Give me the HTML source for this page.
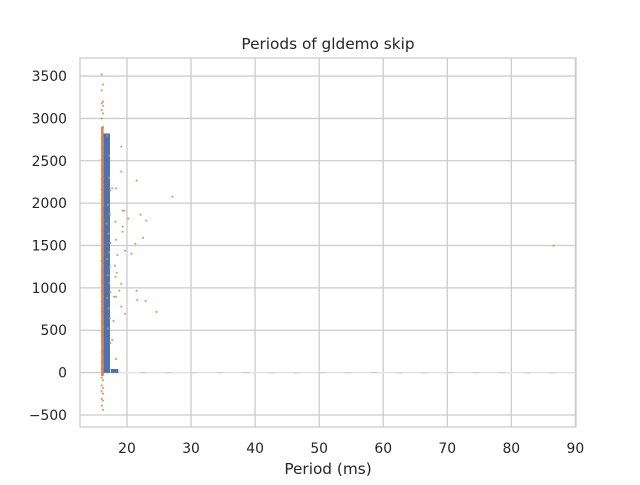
<!DOCTYPE html>
<html><head><meta charset="utf-8"><style>
body{margin:0;background:#fff;font-family:"Liberation Sans","DejaVu Sans",sans-serif}
svg text{font-family:"DejaVu Sans","Liberation Sans",sans-serif;fill:#262626}
</style></head><body>
<svg id="chart" width="640" height="480" xmlns="http://www.w3.org/2000/svg">
<rect width="640" height="480" fill="#fff"/>
<g id="grid"></g><g id="marks"></g><g id="axes"></g>
<text x="328" y="49" text-anchor="middle" font-size="15.3">Periods of gldemo skip</text>
<text x="328" y="474" text-anchor="middle" font-size="15.3">Period (ms)</text>
</svg>
<script>
const xTicks=[20,30,40,50,60,70,80,90];
const yTicks=[-500,0,500,1000,1500,2000,2500,3000,3500];
const histEdges=[16.36,17.3,17.5,18.6];
const histHeights=[2820,40];
const tailBins=[19,23,27,31,35,39,43,47,51,55,59,63,67,71,75,79,83,87];
const tailHeights=[4,3,3,2,2,2,2,2,2,2,2,2,2,2,2,2,2,2];
const stripY=[-440,-390,-330,-310,-250,-220,-180,-150,-90,-60,-20,30,80,130,180,240,300,360,420,480,540,600,660,720,780,840,900,960,1020,1080,1140,1200,1260,1320,1380,1440,1500,1560,1620,1680,1740,1800,1860,1920,1980,2040,2100,2160,2220,2280,2340,2400,2460,2520,2580,2640,2700,2760,2820,2880,2900,3000,3060,3100,3150,3180,3200,3330,3400,3520];
const midX=[16.9,17.2,17.4,17.0,17.3,16.8,17.1,17.4,17.2,16.9,17.3,17.0,17.2,17.4,16.9,17.1,17.3,17.0,17.4,17.2];
const midY=[2800,2560,2150,1980,1870,1760,1640,1530,1420,1340,1250,1150,1060,950,880,760,640,520,350,2300];
const outX=[19.1,19.1,21.5,27.1,17.7,18.3,19.3,19.6,22.1,20.2,23.0,18.2,19.3,19.3,22.5,21.3,18.3,19.7,20.7,18.5,18.1,18.4,18.2,19.1,18.8,21.5,21.6,22.9,18.3,18.0,24.6,19.1,19.7,17.9,17.7,18.3,86.6];
const outY=[2668,2372,2266,2077,2175,2175,1911,1911,1864,1817,1793,1781,1722,1663,1592,1521,1568,1438,1403,1389,1261,1178,1131,1048,966,966,859,847,895,895,717,780,694,611,386,162,1498];

const L=80,R=576,T=58,B=427,xmin=12.66,xmax=90.1,ymin=-642,ymax=3713;
const X=v=>L+(v-xmin)/(xmax-xmin)*(R-L);
const Y=v=>B-(v-ymin)/(ymax-ymin)*(B-T);
const NS="http://www.w3.org/2000/svg";
function mk(tag,attrs,parent){const e=document.createElementNS(NS,tag);for(const k in attrs)e.setAttribute(k,attrs[k]);parent.appendChild(e);return e;}
const grid=document.getElementById('grid'),marks=document.getElementById('marks'),axes=document.getElementById('axes');
mk('rect',{x:L,y:T,width:R-L,height:B-T,fill:'#fff'},grid);
xTicks.forEach(t=>{const x=X(t);
 const g=mk('line',{x1:x,x2:x,y1:T,y2:B,stroke:'#cccccc','stroke-width':1.3},grid);
 
 
 const tx=mk('text',{x:x,y:B+26,'text-anchor':'middle','font-size':13.9},axes);tx.textContent=t;
 
 });
yTicks.forEach(t=>{const y=Y(t);
 const g=mk('line',{x1:L,x2:R,y1:y,y2:y,stroke:'#cccccc','stroke-width':1.3},grid);
 
 
 const tx=mk('text',{x:L-13,y:y+5,'text-anchor':'end','font-size':13.9},axes);tx.textContent=t===-500?'\u2212500':t;
 
 });
const frame=mk('rect',{x:L,y:T,width:R-L,height:B-T,fill:'none',stroke:'#cccccc','stroke-width':1.3},axes);


histHeights.forEach((h,i)=>{const x0=X(histEdges[i*2]),x1=X(histEdges[i*2+1]);
 const r=mk('rect',{x:x0,y:Y(h),width:x1-x0,height:Y(0)-Y(h),fill:'#4c72b0',stroke:'#4c72b0','stroke-width':0.5},marks);
 
 });
tailBins.forEach((b,i)=>{const x0=X(b),x1=X(b+3);
 const r=mk('rect',{x:x0,y:Y(tailHeights[i]),width:x1-x0,height:Math.max(0.8,Y(0)-Y(tailHeights[i])),fill:'#f0f2f7'},marks);
 
 });
function pt(x,y){const c=mk('circle',{cx:X(x),cy:Y(y),r:1.1,fill:'#dd8452','fill-opacity':0.8},marks);
 
 }
const band=mk('rect',{x:X(15.95),y:Y(2900),width:X(16.35)-X(15.95),height:Y(-40)-Y(2900),fill:'#dd8452'},marks);


stripY.forEach((y,i)=>pt(i%2?16.05:16.25,y));
midX.forEach((x,i)=>pt(x,midY[i]));
outX.forEach((x,i)=>pt(x,outY[i]));
</script>
</body></html>
